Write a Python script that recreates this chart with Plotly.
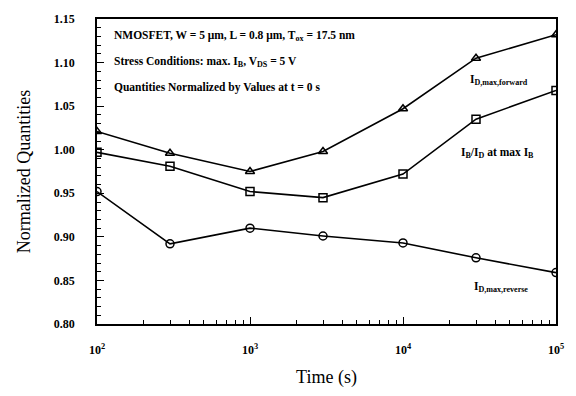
import plotly.graph_objects as go

# Stress time (s)
time_s = [1e2, 3e2, 1e3, 3e3, 1e4, 3e4, 1e5]

# Normalized quantities vs. stress time
id_forward = [1.021, 0.996, 0.975, 0.998, 1.047, 1.105, 1.132]
ib_over_id = [0.997, 0.981, 0.952, 0.945, 0.972, 1.035, 1.068]
id_reverse = [0.952, 0.892, 0.910, 0.901, 0.893, 0.876, 0.859]

x_tickvals = [1e2, 1e3, 1e4, 1e5]
x_ticktext = ["10<sup>2</sup>", "10<sup>3</sup>", "10<sup>4</sup>", "10<sup>5</sup>"]
x_minor_vals = [m * 10 ** e for e in (2, 3, 4) for m in range(2, 10)]

FONT = "Liberation Serif"
INK = "black"

fig = go.Figure()

series = [
    (id_forward, "triangle-up-open"),
    (ib_over_id, "square-open"),
    (id_reverse, "circle-open"),
]
for values, symbol in series:
    fig.add_trace(go.Scatter(
        x=time_s, y=values, mode="lines+markers",
        line=dict(color=INK, width=1.6),
        marker=dict(symbol=symbol, size=8, color=INK, line=dict(width=1.5, color=INK)),
        showlegend=False,
    ))

# Invisible trace that carries the tick-only overlay axes
fig.add_trace(go.Scatter(
    x=time_s, y=id_forward, xaxis="x2", yaxis="y2", mode="lines",
    line=dict(width=0), opacity=0, hoverinfo="skip", showlegend=False,
))

# Header notes
notes = [
    "NMOSFET, W = 5 \u03bcm, L = 0.8 \u03bcm, T<sub>ox</sub> = 17.5 nm",
    "Stress Conditions: max. I<sub>B</sub>, V<sub>DS</sub> = 5 V",
    "Quantities Normalized by Values at t = 0 s",
]
for i, txt in enumerate(notes):
    fig.add_annotation(
        x=0.033, y=1 - (0.055 + 0.085 * i), xref="paper", yref="paper",
        text=txt, showarrow=False, xanchor="left", yanchor="middle",
        font=dict(family=FONT, size=11.5, color=INK, weight="bold"),
    )

# Curve labels
curve_labels = [
    ("I<sub>D,max,forward</sub>", 0.808, 0.80),
    ("I<sub>B</sub>/I<sub>D</sub> at max I<sub>B</sub>", 0.788, 0.56),
    ("I<sub>D,max,reverse</sub>", 0.818, 0.12),
]
for txt, xp, yp in curve_labels:
    fig.add_annotation(
        x=xp, y=yp, xref="paper", yref="paper", text=txt, showarrow=False,
        xanchor="left", yanchor="middle",
        font=dict(family=FONT, size=11.5, color=INK, weight="bold"),
    )

# Main axes: frame, labels and titles
fig.update_layout(
    xaxis=dict(
        type="log", range=[2, 5],
        tickvals=x_tickvals, ticktext=x_ticktext, ticks="",
        showline=True, linecolor=INK, linewidth=1.6, mirror=True,
        showgrid=False, zeroline=False,
        ticklabelstandoff=14,
        tickfont=dict(family=FONT, size=12, color=INK, weight="bold"),
        title=dict(text="Time (s)", font=dict(family=FONT, size=18, color=INK), standoff=14),
    ),
    yaxis=dict(
        range=[0.80, 1.15], dtick=0.05, tickformat=".2f", ticks="",
        showline=True, linecolor=INK, linewidth=1.6, mirror=True,
        showgrid=False, zeroline=False,
        ticklabelstandoff=18,
        tickfont=dict(family=FONT, size=12, color=INK, weight="bold"),
        title=dict(text="Normalized Quantities", font=dict(family=FONT, size=18, color=INK), standoff=18),
    ),
    # Overlay axes that draw only the inward tick marks
    xaxis2=dict(
        type="log", range=[2, 5], overlaying="x", anchor="y", side="bottom",
        tickvals=x_tickvals, ticks="inside", ticklen=7, tickwidth=1, tickcolor=INK,
        minor=dict(tickvals=x_minor_vals, ticks="inside", ticklen=4, tickwidth=1, tickcolor=INK),
        showticklabels=False, showline=False, showgrid=False, zeroline=False,
    ),
    yaxis2=dict(
        range=[0.80, 1.15], overlaying="y", anchor="x", side="left",
        dtick=0.05, ticks="inside", ticklen=7, tickwidth=1, tickcolor=INK,
        minor=dict(ticks="inside", ticklen=4, tickwidth=1, tickcolor=INK, dtick=0.01),
        showticklabels=False, showline=False, showgrid=False, zeroline=False,
    ),
    width=576, height=396,
    margin=dict(l=97, r=16, t=12, b=63),
    paper_bgcolor="white", plot_bgcolor="white",
)

fig.write_html("out.html")
